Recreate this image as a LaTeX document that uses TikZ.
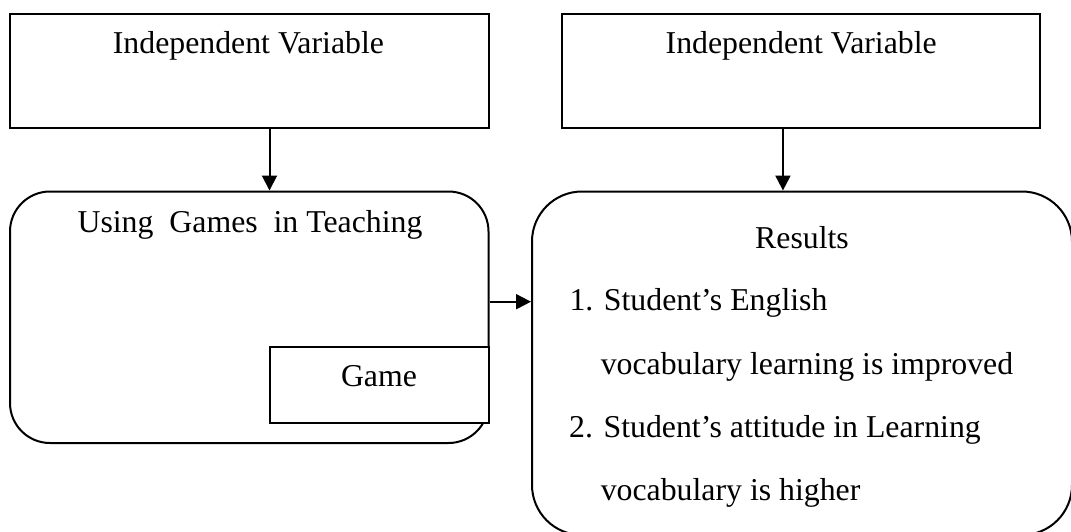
\documentclass[tikz,border=0pt]{standalone}
\usepackage{fontspec}
\setmainfont{Liberation Serif}
\usetikzlibrary{arrows.meta,calc}
\begin{document}
\begin{tikzpicture}[x=1pt,y=-1pt,
  boxline/.style={draw=black,line width=2pt,inner sep=0pt},
  rectbox/.style={boxline,rectangle},
  roundbox/.style={boxline,rectangle},
  txt/.style={inner sep=0pt,font=\fontsize{31.8}{38}\selectfont},
  arr/.style={line width=2pt,-{Triangle[length=15pt,width=15pt]}}]
\useasboundingbox[fill=white] (0,0) rectangle (1071,531);
% top boxes
\node[rectbox,minimum width=479pt,minimum height=113.5pt] (iv1) at (249,70.75) {};
\node[rectbox,minimum width=478pt,minimum height=113.5pt] (iv2) at (800.65,70.75) {};
\node[txt,anchor=base] (iv1t) at (248.4,53) {Independent Variable};
\node[txt,anchor=base] (iv2t) at (801.2,53) {Independent Variable};
% lower boxes
\node[roundbox,rounded corners=40pt,minimum width=478.5pt,minimum height=251.5pt] (ug) at (249.25,317.25) {};
\node[roundbox,rounded corners=50pt,minimum width=540pt,minimum height=343.5pt] (res) at (802,363.25) {};
\node[rectbox,fill=white,minimum width=219pt,minimum height=76pt] (game) at (379,385.3) {};
\node[txt,anchor=base] (ugt) at (250,232) {Using\ \ Games\ \ in Teaching};
\node[txt,anchor=base] (gamet) at (379,386.7) {Game};
\node[txt,anchor=base] (rest) at (802,248.3) {Results};
\node[txt,anchor=base west] (r1) at (569.3,310.7) {1. Student’s English};
\node[txt,anchor=base west] (r2) at (600.6,374.3) {vocabulary learning is improved};
\node[txt,anchor=base west] (r3) at (569,437.3) {2. Student’s attitude in Learning};
\node[txt,anchor=base west] (r4) at (600.6,500.7) {vocabulary is higher};
% connectors
\draw[arr] ($(iv1.south west)+(261,0)$) coordinate (a1) -- (a1 |- ug.north);
\draw[arr] ($(iv2.south west)+(222.3,0)$) coordinate (a2) -- (a2 |- res.north);
\draw[arr] ($(ug.north east)+(0,111.2)$) coordinate (a3) -- (a3 -| res.west);
\end{tikzpicture}
\end{document}
